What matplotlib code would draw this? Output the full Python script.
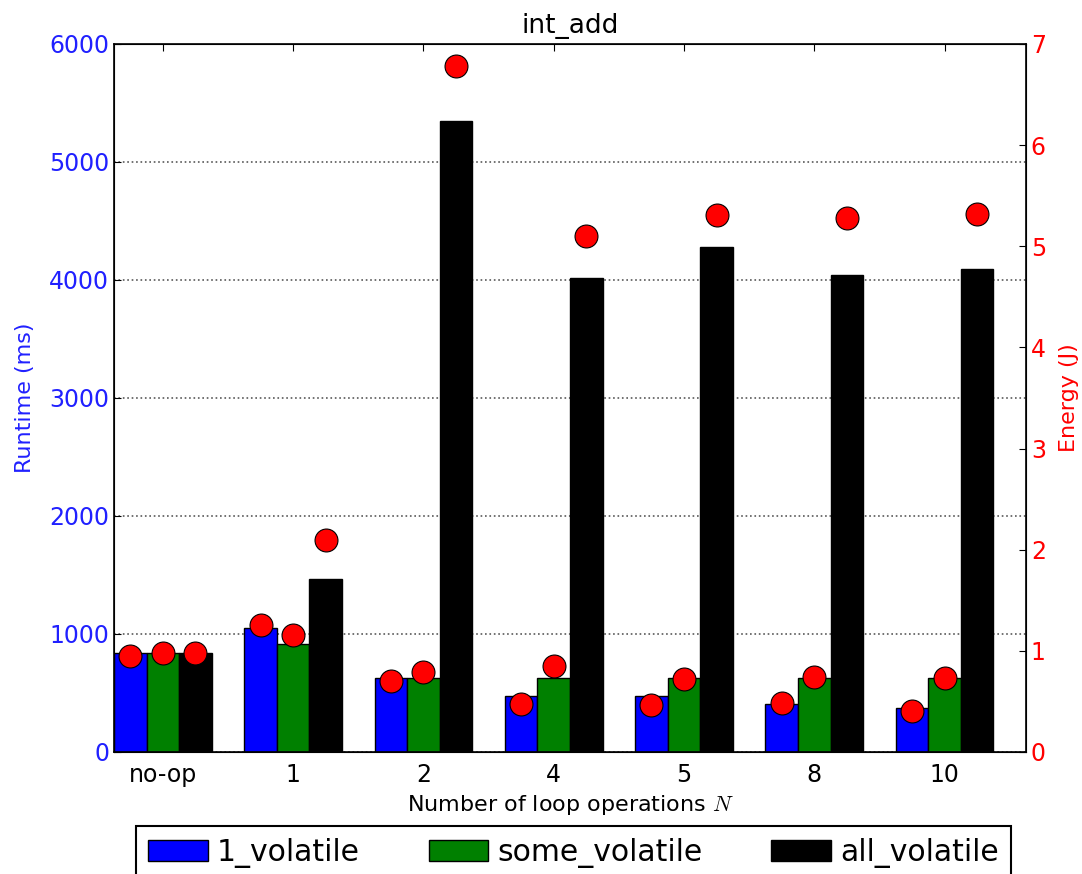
import numpy as np
from matplotlib import pyplot as plt

plt.rcParams['mathtext.fontset'] = 'cm'

# donnees
categories = ["no-op", "1", "2", "4", "5", "8", "10"]
series = ["1_volatile", "some_volatile", "all_volatile"]
couleurs = ["#0000ff", "#008000", "#000000"]

runtime_1 = [840, 1053, 630, 477, 477, 404, 375]
runtime_some = [840, 915, 630, 630, 630, 630, 630]
runtime_all = [840, 1466, 5350, 4020, 4280, 4042, 4090]

energy_1 = [0.95, 1.26, 0.70, 0.47, 0.465, 0.48, 0.41]
energy_some = [0.98, 1.16, 0.79, 0.85, 0.72, 0.745, 0.735]
energy_all = [0.98, 2.10, 6.78, 5.10, 5.31, 5.28, 5.32]

runtimes = [runtime_1, runtime_some, runtime_all]
energies = [energy_1, energy_some, energy_all]

taille = 17
largeur = 0.25
x = np.arange(len(categories))

fig = plt.figure(figsize=(10.82, 8.74), dpi=100)
ax = fig.add_axes([0.1054, 0.1396, 0.8428, 0.8101])
ax2 = ax.twinx()

for i in range(3):
    ax.bar(x + i * largeur, runtimes[i], largeur, align='edge', color=couleurs[i],
           edgecolor='black', linewidth=1, label=series[i], zorder=2)
    ax2.plot(x + (i + 0.5) * largeur, energies[i], 'o', color='red',
             markeredgecolor='black', markeredgewidth=0.8, markersize=16.5, zorder=3)

ax.set_xlim(0, len(categories))
ax.set_ylim(0, 6000)
ax2.set_ylim(0, 7)
ax.set_xticks(x + 1.5 * largeur)
ax.set_xticklabels(categories, fontsize=taille)
ax.set_yticks(range(0, 6001, 1000))

ax.yaxis.grid(True, linestyle=':', color='0.35', linewidth=1.2, zorder=0)
ax.set_axisbelow(True)

ax.tick_params(axis='y', colors='#2020ff', labelsize=taille, direction='in', length=5)
ax.tick_params(axis='x', direction='in', top=True, length=5, labelsize=taille, pad=8)
ax2.tick_params(axis='y', colors='red', labelsize=taille, direction='in', length=5)
ax.tick_params(axis='y', color='black')
ax2.tick_params(axis='y', color='black')

ax.set_ylabel("Runtime (ms)", color='#2020ff', fontsize=taille - 1, labelpad=10)
ax2.set_ylabel("Energy (J)", color='red', fontsize=taille - 1)
ax2.yaxis.set_label_coords(1.036, 0.5)
ax.set_xlabel("Number of loop operations $N$", fontsize=taille - 1, labelpad=4)
ax.set_title("int_add", fontsize=taille + 2, pad=8)

for s in ax2.spines.values():
    s.set_linewidth(1.2)

leg = fig.legend(loc='upper center', bbox_to_anchor=(0.53, 0.0549), ncol=3,
                 fontsize=21.5, fancybox=False, framealpha=1, edgecolor='black',
                 handlelength=2, handletextpad=0.3, columnspacing=2.3,
                 borderaxespad=0)
leg.get_frame().set_linewidth(1.5)

plt.savefig("out.png", dpi=100)
